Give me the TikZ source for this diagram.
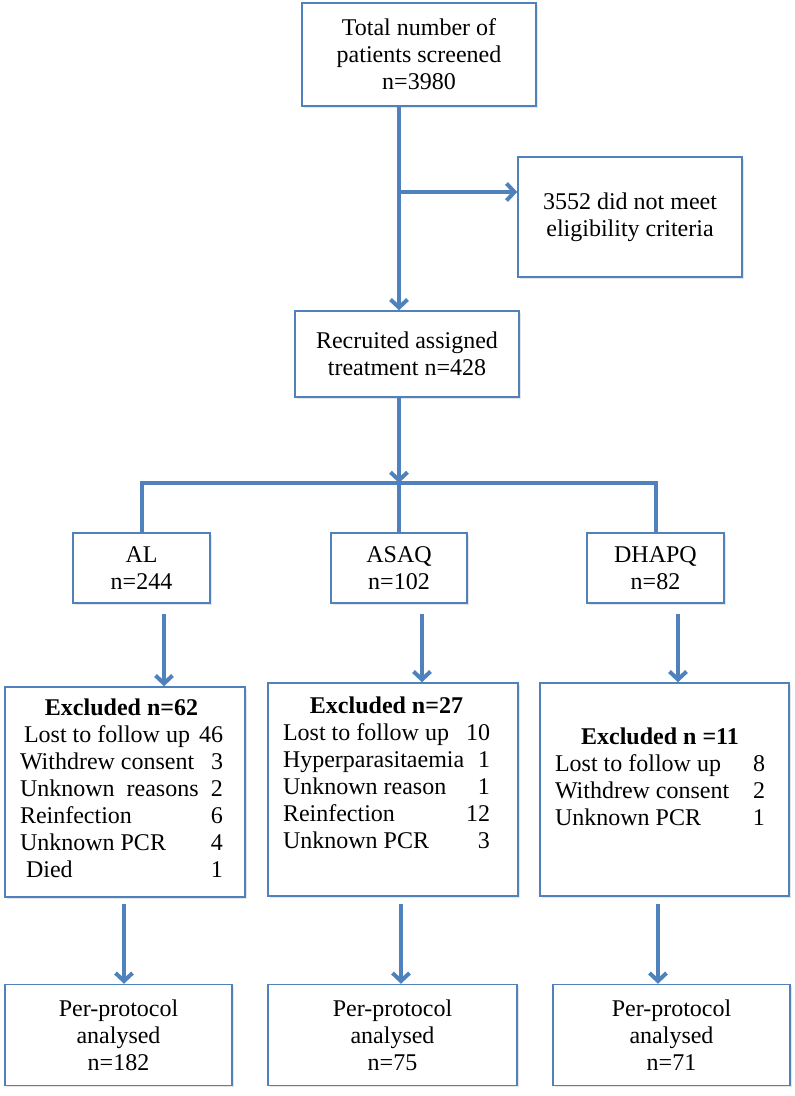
\documentclass[tikz,border=0pt]{standalone}
\usepackage{fontspec}
\setmainfont{Liberation Serif}
\usetikzlibrary{arrows.meta,shadows}
\definecolor{flowblue}{HTML}{4F81BD}

\begin{document}
\begin{tikzpicture}[x=1pt,y=-1pt,
  main box/.style={draw=flowblue,line width=1.5pt,fill=white,align=center,inner sep=0pt,
    font=\fontsize{24}{27}\selectfont,
    drop shadow={shadow xshift=1.5pt,shadow yshift=-1.5pt,opacity=.2}},
  list text/.style={anchor=north,inner sep=0pt,align=center,font=\fontsize{24}{27}\selectfont},
  flow line/.style={draw=flowblue,line width=4pt},
  flow arrow/.style={flow line,-{Straight Barb[length=8pt,width=17pt]}}]

\useasboundingbox (0,0) rectangle (795,1096);

\node[main box,minimum width=234pt,minimum height=103pt] (total) at (419,54.5) {Total number of\\patients screened\\n=3980};
\node[main box,minimum width=224pt,minimum height=120pt] (elig) at (630,217) {3552 did not meet\\eligibility criteria};
\node[main box,minimum width=224pt,minimum height=86pt] (recr) at (407,354) {Recruited assigned\\treatment n=428};

\node[main box,minimum width=137pt,minimum height=70pt] (al) at (141.5,568) {AL\\n=244};
\node[main box,minimum width=136pt,minimum height=70pt] (asaq) at (399,568) {ASAQ\\n=102};
\node[main box,minimum width=137pt,minimum height=70pt] (dhapq) at (655.5,568) {DHAPQ\\n=82};

\node[main box,minimum width=240pt,minimum height=210pt] (exal) at (125,792) {};
\node[main box,minimum width=250pt,minimum height=213pt] (exasaq) at (393,789.5) {};
\node[main box,minimum width=249pt,minimum height=213pt] (exdhapq) at (664.5,789.5) {};

\node[main box,minimum width=227pt,minimum height=101pt] (ppal) at (118.5,1035) {Per-protocol\\analysed\\n=182};
\node[main box,minimum width=249pt,minimum height=101pt] (ppasaq) at (392.5,1035) {Per-protocol\\analysed\\n=75};
\node[main box,minimum width=237pt,minimum height=101pt] (ppdhapq) at (671.5,1035) {Per-protocol\\analysed\\n=71};

% excluded lists
\node[list text] (exaltxt) at ([xshift=-3.5pt,yshift=-12pt]exal.north) {\textbf{Excluded n=62}\\
  \begin{tabular*}{203pt}[t]{@{}l@{\extracolsep{\fill}}r@{}}
  \hspace{4pt}Lost to follow up & 46\\
  Withdrew consent & 3\\
  Unknown~ reasons & 2\\
  Reinfection & 6\\
  Unknown PCR & 4\\
  \hspace{6pt}Died & 1
  \end{tabular*}};
\node[list text] (exasaqtxt) at ([xshift=-6.5pt,yshift=-14pt]exasaq.north) {\textbf{Excluded n=27}\\
  \begin{tabular*}{207pt}[t]{@{}l@{\extracolsep{\fill}}r@{}}
  Lost to follow up & 10\\
  Hyperparasitaemia & 1\\
  Unknown reason & 1\\
  Reinfection & 12\\
  Unknown PCR & 3
  \end{tabular*}};
\node[list text] (exdhapqtxt) at ([xshift=-4.5pt,yshift=-45pt]exdhapq.north) {\textbf{Excluded n =11}\\
  \begin{tabular*}{210pt}[t]{@{}l@{\extracolsep{\fill}}r@{}}
  Lost to follow up & 8\\
  Withdrew consent & 2\\
  Unknown PCR & 1
  \end{tabular*}};

% trunk and split
\coordinate (split) at (399,192);
\coordinate (bar) at (399,483);

\draw[flow arrow] ([xshift=-20pt]total.south) -- ([xshift=-8pt]recr.north);
\draw[flow arrow] (split) -- (split -| elig.west);
\draw[flow arrow] ([xshift=-8pt]recr.south) -- (bar);
\draw[flow line] (al.north) |- (bar) -| (dhapq.north);
\draw[flow line] (bar) -- (asaq.north);

\draw[flow arrow] ([xshift=22.5pt,yshift=-10pt]al.south) -- ([xshift=22.5pt]al.south |- exal.north);
\draw[flow arrow] ([xshift=23pt,yshift=-10pt]asaq.south) -- ([xshift=23pt]asaq.south |- exasaq.north);
\draw[flow arrow] ([xshift=22.5pt,yshift=-10pt]dhapq.south) -- ([xshift=22.5pt]dhapq.south |- exdhapq.north);

\draw[flow arrow] ([xshift=-1pt,yshift=-6pt]exal.south) -- ([xshift=-1pt]exal.south |- ppal.north);
\draw[flow arrow] ([xshift=8pt,yshift=-7pt]exasaq.south) -- ([xshift=8pt]exasaq.south |- ppasaq.north);
\draw[flow arrow] ([xshift=-6.5pt,yshift=-7pt]exdhapq.south) -- ([xshift=-6.5pt]exdhapq.south |- ppdhapq.north);

\end{tikzpicture}
\end{document}
